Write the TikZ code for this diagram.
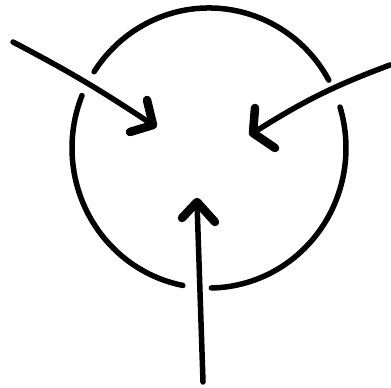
\documentclass[tikz,border=0pt]{standalone}
\usetikzlibrary{calc}
\begin{document}
\begin{tikzpicture}[x=1pt, y=1pt]
    \tikzstyle{rim} = [line width=5.5pt, line cap=round]
    \tikzstyle{shaft} = [line width=5.5pt, line cap=round]
    \tikzstyle{head} = [line width=8.5pt, line cap=round, line join=round]

    \useasboundingbox (0,0) rectangle (391,388);
    \coordinate (c) at (209,240);

    \draw [rim] ($(c)+(29:137 and 140)$) arc [start angle=29, end angle=147, x radius=137, y radius=140];
    \draw [rim] ($(c)+(158:137 and 140)$) arc [start angle=158, end angle=259, x radius=137, y radius=140];
    \draw [rim] ($(c)+(-89:137 and 140)$) arc [start angle=-89, end angle=17, x radius=137, y radius=140];

    \coordinate (ltail) at (13,346);
    \coordinate (ltip) at (153,263);
    \coordinate (lbarbA) at (147,288);
    \coordinate (lbarbB) at (130,256);
    \draw [shaft] (ltail) to[bend left=3] (ltip);
    \draw [head] (lbarbA) -- (ltip) -- (lbarbB);

    \coordinate (rtail) at (390,323);
    \coordinate (rtip) at (253,255);
    \coordinate (rbarbA) at (255,280);
    \coordinate (rbarbB) at (275,240);
    \draw [shaft] (rtail) to[bend right=6] (rtip);
    \draw [head] (rbarbA) -- (rtip) -- (rbarbB);

    \coordinate (btail) at (203,6);
    \coordinate (btip) at (197,186);
    \coordinate (bbarbA) at (182,170);
    \coordinate (bbarbB) at (215,166);
    \draw [shaft] (btail) -- (btip);
    \draw [head] (bbarbA) -- (btip) -- (bbarbB);
\end{tikzpicture}
\end{document}
